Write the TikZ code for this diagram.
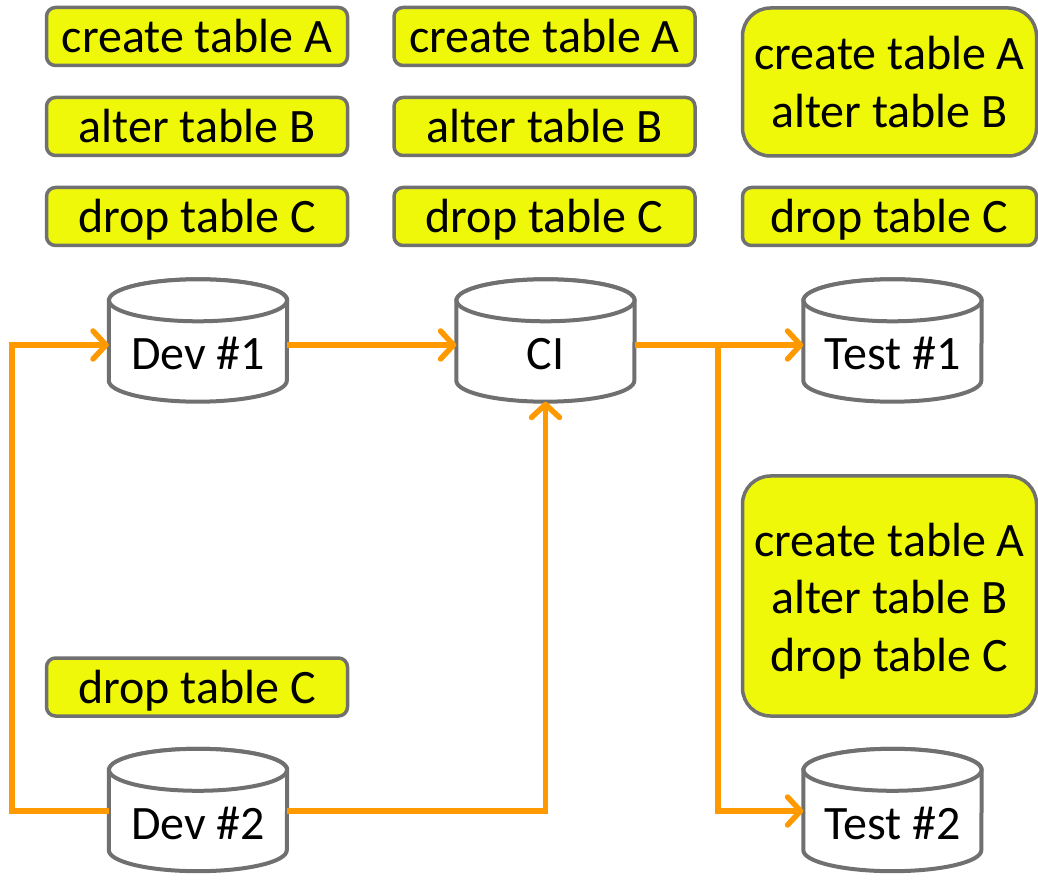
\documentclass[tikz,border=0pt]{standalone}
\usepackage{fontspec}
\setmainfont{Carlito}
\usetikzlibrary{arrows.meta}
\definecolor{boxfill}{RGB}{240,248,10}
\definecolor{boxline}{RGB}{112,112,112}
\definecolor{conn}{RGB}{255,153,0}
\newcommand\drawcyl[1]{%
  \path[cyl] ([yshift=-21pt]#1.north west) -- ([yshift=21pt]#1.south west)
    arc[start angle=180,end angle=360,x radius=89pt,y radius=21pt]
    -- ([yshift=-21pt]#1.north east)
    arc[start angle=0,end angle=180,x radius=89pt,y radius=21pt] -- cycle;
  \path[cyl] ([yshift=-21pt]#1.north) ellipse[x radius=89pt,y radius=21pt];
}
\begin{document}
\begin{tikzpicture}[x=1pt,y=1pt,
  txt/.style={font=\fontsize{48}{57.5}\selectfont},
  sbox/.style={txt, draw=boxline, line width=3.5pt, fill=boxfill, rounded corners=9pt,
    minimum width=301pt, minimum height=58pt, inner sep=0pt, text height=33pt, text depth=0pt},
  bbox/.style={txt, draw=boxline, line width=3.5pt, fill=boxfill, rounded corners=28pt,
    minimum width=294pt, inner sep=0pt, align=center},
  db/.style={minimum width=178pt, minimum height=122pt, inner sep=0pt, draw=none},
  dbtext/.style={txt, anchor=base, inner sep=0pt},
  cyl/.style={draw=boxline, line width=4pt, fill=white},
  link/.style={draw=conn, line width=5.5pt, line join=miter},
  tip/.style={-{Straight Barb[length=13pt,width=28pt,round]}},
]
\useasboundingbox (0,0) rectangle (1038,879);

% boxes column 1
\node[sbox] (c1a) at (197,842.5) {create table A};
\node[sbox] (c1b) at (197,752.5) {alter table B};
\node[sbox] (c1c) at (197,662.5) {drop table C};
\node[sbox] (c1d) at (197,192) {drop table C};
% column 2
\node[sbox] (c2a) at (544.5,842.5) {create table A};
\node[sbox] (c2b) at (544.5,752.5) {alter table B};
\node[sbox] (c2c) at (544.5,662.5) {drop table C};
% column 3
\node[bbox, minimum height=148pt] (c3ab) at (889.5,797) {create table A\\alter table B};
\node[sbox, minimum width=294pt] (c3c) at (889.5,662.5) {drop table C};
\node[bbox, minimum height=240pt] (c3all) at (889.5,283) {\rule{0pt}{43pt}create table A\\alter table B\\drop table C};

% databases
\node[db] (dev1) at (198,538.5) {};
\node[db] (ci) at (545.5,538.5) {};
\node[db] (test1) at (892.5,538.5) {};
\node[db] (dev2) at (198,69) {};
\node[db] (test2) at (892.5,69) {};
\drawcyl{dev1}
\drawcyl{ci}
\drawcyl{test1}
\drawcyl{dev2}
\drawcyl{test2}
\node[dbtext] (dev1t) at (198,509) {Dev \#1};
\node[dbtext] (cit) at (545.5,509) {CI};
\node[dbtext] (test1t) at (892.5,509) {Test \#1};
\node[dbtext] (dev2t) at (198,40) {Dev \#2};
\node[dbtext] (test2t) at (892.5,40) {Test \#2};

% connectors
\coordinate (lft) at (12,300);
\coordinate (br) at (718,534);
\draw[link,tip] ([yshift=-1pt]dev2.west) -- ([yshift=-1pt]dev2.west -| lft)
  -- ([yshift=-4.5pt]dev1.west -| lft) -- ([yshift=-4.5pt]dev1.west);
\draw[link,tip] ([yshift=-4.5pt]dev1.east) -- ([yshift=-4.5pt]ci.west);
\draw[link,tip] ([yshift=-1pt]dev2.east) -| (ci.south);
\draw[link,tip] ([yshift=-4.5pt]ci.east) -- ([yshift=-4.5pt]test1.west);
\draw[link,tip] (br) |- ([yshift=-1pt]test2.west);
\end{tikzpicture}
\end{document}
